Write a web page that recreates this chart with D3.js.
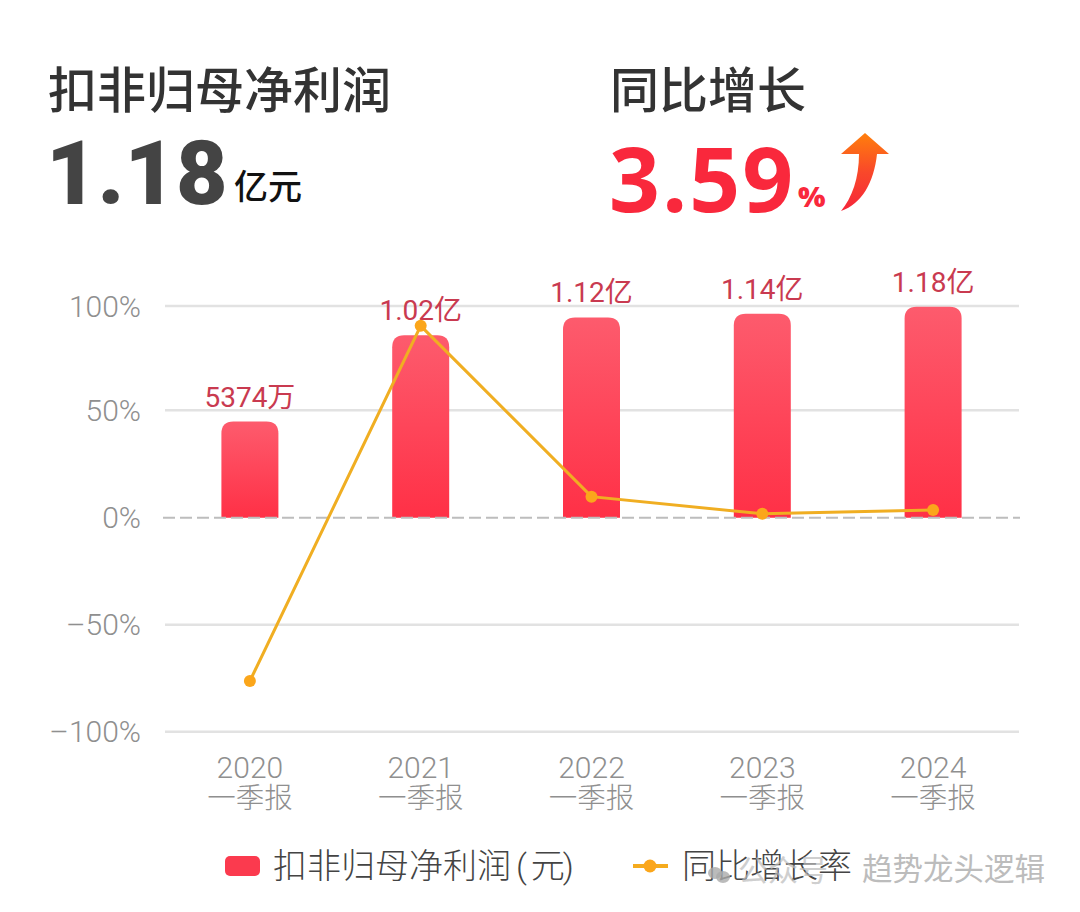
<!DOCTYPE html>
<html>
<head>
<meta charset="utf-8">
<script src="https://cdn.jsdelivr.net/npm/d3@7"></script>
<style>
  html, body { margin: 0; background: #fff; }
  svg { display: block; }
  text { font-family: "Noto Sans CJK SC", sans-serif; }
  .num { font-family: Roboto, "Noto Sans CJK SC", sans-serif; font-weight: 300; }
  .axis text { font-family: Roboto, "Noto Sans CJK SC", sans-serif; font-weight: 300; fill: #8f8f8f; font-size: 30px; }
</style>
</head>
<body>
<svg id="chart" width="1080" height="912"></svg>
<script>
// data
const years = ['2020', '2021', '2022', '2023', '2024']
const period = '一季报'
const profit = [0.5374, 1.02, 1.12, 1.14, 1.18] // 亿元
const profitLabels = ['5374万', '1.02亿', '1.12亿', '1.14亿', '1.18亿']
const growth = [-76.3, 90.5, 9.8, 1.8, 3.59] // %
const pctTicks = [-100, -50, 0, 50, 100]

const svg = d3.select('#chart')

// scales
const x = d3.scaleBand().domain(years).range([164.5, 1018.5])
// the gridlines in the picture are not quite evenly spaced
const yPct = d3.scaleLinear().domain(pctTicks).range([731.7, 624.7, 517.7, 410.3, 306])
const yBar = d3.scaleLinear().domain([0, 1.2]).range([yPct(0), yPct(0) - 214.6])
const cx = d => x(d) + x.bandwidth() / 2
const barWidth = 57
const barRadius = 12

// gradients
const defs = svg.append('defs')
const barGrad = defs.append('linearGradient').attr('id', 'barGrad')
    .attr('x1', 0).attr('y1', 0).attr('x2', 0).attr('y2', 1)
barGrad.append('stop').attr('offset', 0).attr('stop-color', '#fd5b6d')
barGrad.append('stop').attr('offset', 1).attr('stop-color', '#ff3046')
const arrowGrad = defs.append('linearGradient').attr('id', 'arrowGrad')
    .attr('x1', 0).attr('y1', 0).attr('x2', 0).attr('y2', 1)
arrowGrad.append('stop').attr('offset', 0).attr('stop-color', '#ff7f0c')
arrowGrad.append('stop').attr('offset', 0.5).attr('stop-color', '#f9482a')
arrowGrad.append('stop').attr('offset', 1).attr('stop-color', '#f6263a')

// header
svg.append('text').text('扣非归母净利润')
    .attr('x', 48).attr('y', 108)
    .style('font-size', '49px').style('font-weight', 500).style('fill', '#333')
svg.append('text').text('同比增长')
    .attr('x', 610).attr('y', 108)
    .style('font-size', '49px').style('font-weight', 500).style('fill', '#333')
svg.append('text').text('1.18')
    .attr('x', 46).attr('y', 204)
    .style('font-family', 'Roboto').style('font-size', '89px').style('font-weight', 900)
    .style('fill', '#444')
svg.append('text').text('亿元')
    .attr('x', 234).attr('y', 199)
    .style('font-size', '34px').style('font-weight', 500).style('fill', '#111')
svg.append('text').text('3.59')
    .attr('x', 609).attr('y', 212)
    .style('font-family', 'Open Sans').style('font-size', '89px').style('font-weight', 700)
    .style('letter-spacing', '2px').style('fill', '#f9283c')
svg.append('text').text('%')
    .attr('x', 798).attr('y', 207)
    .style('font-family', 'Open Sans').style('font-size', '29px').style('font-weight', 800)
    .style('fill', '#f9283c')
svg.append('path')
    .attr('d', 'M841 211 C852 198 859 178 859 154 L841 154 L865 133 L889 154 L877 154 C874 182 862 204 841 211 Z')
    .attr('fill', 'url(#arrowGrad)')

// y axis + grid
const yAxis = d3.axisLeft(yPct)
    .tickValues(pctTicks)
    .tickSize(0)
    .tickPadding(24)
    .offset(0)
    .tickFormat(d => d < 0 ? `–${-d}%` : `${d}%`)
const yG = svg.append('g').attr('class', 'axis').attr('transform', 'translate(165,0)').call(yAxis)
yG.select('.domain').remove()
yG.selectAll('.tick text').attr('y', 1)
yG.selectAll('.tick line')
    .attr('x2', 854)
    .attr('stroke', d => d === 0 ? 'none' : '#e2e2e2')
    .attr('stroke-width', 2.5)

// bars
svg.append('g').selectAll('path').data(years).join('path')
    .attr('d', (d, i) => {
        const l = cx(d) - barWidth / 2, r = l + barWidth
        const t = yBar(profit[i]), b = yBar(0)
        return `M${l} ${b}V${t + barRadius}Q${l} ${t} ${l + barRadius} ${t}H${r - barRadius}Q${r} ${t} ${r} ${t + barRadius}V${b}Z`
    })
    .attr('fill', 'url(#barGrad)')

// zero line on top of the bars
svg.append('line')
    .attr('x1', 163).attr('x2', 1020)
    .attr('y1', yPct(0)).attr('y2', yPct(0))
    .attr('stroke', '#bdbdbd').attr('stroke-width', 2)
    .attr('stroke-dasharray', '12 5')

// bar labels
svg.append('g').selectAll('text').data(years).join('text')
    .attr('class', 'num')
    .attr('x', cx)
    .attr('y', (d, i) => yBar(profit[i]) - 15)
    .attr('text-anchor', 'middle')
    .style('font-size', '28px').style('font-weight', 400).style('fill', '#c93a50')
    .text((d, i) => profitLabels[i])

// growth line
const line = d3.line().x((d, i) => cx(years[i])).y(d => yPct(d))
svg.append('path').datum(growth)
    .attr('d', line)
    .attr('fill', 'none').attr('stroke', '#f0ae22').attr('stroke-width', 3)
svg.append('g').selectAll('circle').data(growth).join('circle')
    .attr('cx', (d, i) => cx(years[i]))
    .attr('cy', d => yPct(d))
    .attr('r', 6)
    .attr('fill', '#fba61b')

// x axis labels
const xAxis = d3.axisBottom(x).tickSize(0).tickPadding(0).offset(0)
const xG = svg.append('g').attr('class', 'axis').attr('transform', 'translate(0,752)').call(xAxis)
xG.select('.domain').remove()
xG.selectAll('.tick text').each(function(d) {
    const t = d3.select(this).text(null).attr('y', 0).attr('dy', null)
    t.append('tspan').attr('x', 0).attr('y', 26).text(d)
    t.append('tspan').attr('x', 0).attr('y', 56).style('font-size', '28.5px').text(period)
})

// legend
const legendY = 866
svg.append('rect').attr('x', 225).attr('y', legendY - 10).attr('width', 35).attr('height', 20)
    .attr('rx', 5).attr('fill', '#fb3a4e')
const legendText = svg.append('text').attr('class', 'num')
    .attr('x', 273).attr('y', legendY + 12)
    .style('font-size', '34px').style('fill', '#444')
legendText.append('tspan').text('扣非归母净利润')
legendText.append('tspan').attr('dx', 5).text('(')
legendText.append('tspan').attr('dx', 4).text('元')
legendText.append('tspan').attr('dx', -2).text(')')
svg.append('line').attr('x1', 633).attr('x2', 668).attr('y1', legendY).attr('y2', legendY)
    .attr('stroke', '#f5ab1e').attr('stroke-width', 4)
svg.append('circle').attr('cx', 650).attr('cy', legendY).attr('r', 6.5).attr('fill', '#fba61b')
svg.append('text').attr('class', 'num').text('同比增长率')
    .attr('x', 682).attr('y', legendY + 12)
    .style('font-size', '34px').style('fill', '#444')

// watermark
svg.append('ellipse').attr('cx', 715).attr('cy', 873).attr('rx', 7).attr('ry', 6).attr('fill', '#aaa').attr('opacity', 0.8)
svg.append('ellipse').attr('cx', 723).attr('cy', 877).attr('rx', 7).attr('ry', 6).attr('fill', '#aaa').attr('opacity', 0.8)
svg.append('text').text('公众号')
    .attr('x', 738).attr('y', 881)
    .style('font-size', '30px').style('fill', '#bbb').style('opacity', 0.7)
svg.append('text').text('趋势龙头逻辑')
    .attr('x', 862).attr('y', 880)
    .style('font-size', '30.5px').style('fill', '#bcbcbc')
</script>
</body>
</html>
